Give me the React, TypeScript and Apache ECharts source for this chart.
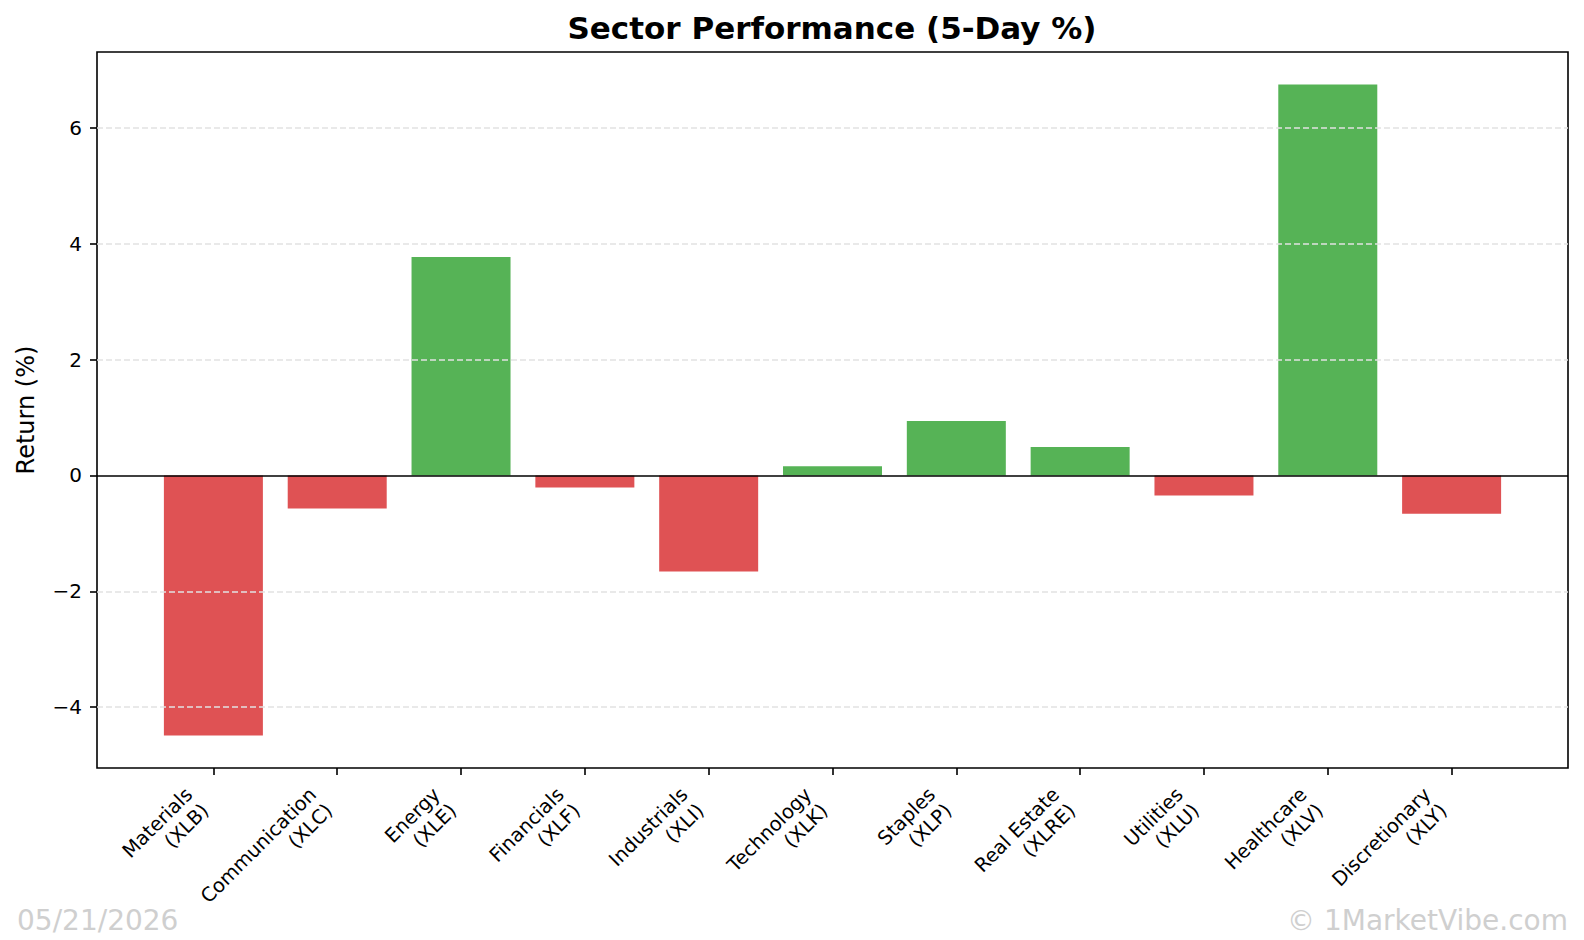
import React, { useEffect, useRef } from "react";
import * as echarts from "echarts";

const sectors = ["Materials", "Communication", "Energy", "Financials", "Industrials", "Technology", "Staples", "Real Estate", "Utilities", "Healthcare", "Discretionary"];
const tickers = ["XLB", "XLC", "XLE", "XLF", "XLI", "XLK", "XLP", "XLRE", "XLU", "XLV", "XLY"];
const returns = [-4.49, -0.57, 3.77, -0.21, -1.66, 0.16, 0.94, 0.49, -0.345, 6.75, -0.66];
const yTicks = [-4, -2, 0, 2, 4, 6];
const titleText = "Sector Performance (5-Day %)";
const yLabel = "Return (%)";
const dateText = "05/21/2026";
const creditText = "\u00a9 1MarketVibe.com";

const FONT = "DejaVu Sans";
const POS = "#56b356";
const NEG = "#df5254";

export default function App() {
  const ref = useRef<HTMLDivElement>(null);
  useEffect(() => {
    if (!ref.current) return;
    const chart = echarts.init(ref.current, null, { renderer: "svg" });
    const idx = sectors.map((_, i) => i);
    const fmtY = (v: number) => (v < 0 ? "\u2212" + Math.abs(v) : String(v));
    chart.setOption({
      animation: false,
      backgroundColor: "#ffffff",
      grid: {
        left: 97,
        top: 52,
        right: 16,
        bottom: 172,
        show: true,
        borderColor: "#000",
        borderWidth: 1.6,
        backgroundColor: "transparent",
      },
      xAxis: {
        type: "value",
        min: -0.94,
        max: 10.94,
        axisLine: { show: false, onZero: false },
        splitLine: { show: false },
        axisTick: {
          show: true,
          customValues: idx,
          length: 7,
          lineStyle: { color: "#000", width: 1.6 },
        },
        axisLabel: {
          customValues: idx,
          rotate: 45,
          margin: 15,
          formatter: (v: number) => {
            const i = Math.round(v);
            return sectors[i] + "\n(" + tickers[i] + ")";
          },
          fontFamily: FONT,
          fontSize: 19.5,
          lineHeight: 23,
          color: "#000",
          padding: [0, 23, 0, 0],
        },
      },
      yAxis: {
        type: "value",
        min: -5.05,
        max: 7.31,
        name: yLabel,
        nameLocation: "middle",
        nameGap: 59,
        nameTextStyle: { fontFamily: FONT, fontSize: 24, color: "#000" },
        axisLine: { show: false, onZero: false },
        splitLine: { show: false },
        axisTick: {
          show: true,
          customValues: yTicks,
          length: 7,
          lineStyle: { color: "#000", width: 1.6 },
        },
        axisLabel: {
          customValues: yTicks,
          formatter: fmtY,
          margin: 15,
          fontFamily: FONT,
          fontSize: 20,
          color: "#000",
        },
      },
      series: [
        {
          type: "bar",
          barWidth: 99,
          data: returns.map((v, i) => ({
            value: [i, v],
            itemStyle: { color: v >= 0 ? POS : NEG },
          })),
          markLine: {
            silent: true,
            symbol: ["none", "none"],
            label: { show: false },
            data: [
              ...yTicks.filter((t) => t !== 0).map((t) => ({
                yAxis: t,
                lineStyle: { color: "#e2e2e2", width: 1.6, type: [6, 3] },
              })),
              { yAxis: 0, lineStyle: { color: "#000", width: 1.6, type: "solid" } },
            ],
          },
        },
      ],
      graphic: [
        {
          type: "text",
          x: 832,
          y: 28,
          style: {
            text: titleText,
            font: `bold 31px "${FONT}"`,
            fill: "#000",
            textAlign: "center",
            textVerticalAlign: "middle",
          },
        },
        {
          type: "text",
          x: 17,
          y: 920,
          style: {
            text: dateText,
            font: `28px "${FONT}"`,
            fill: "#cfcfcf",
            textAlign: "left",
            textVerticalAlign: "middle",
            textShadowColor: "#8c8c8c",
            textShadowOffsetX: 1,
            textShadowOffsetY: 1,
            textShadowBlur: 0,
          },
        },
        {
          type: "text",
          x: 1568,
          y: 920,
          style: {
            text: creditText,
            font: `28px "${FONT}"`,
            fill: "#cfcfcf",
            textAlign: "right",
            textVerticalAlign: "middle",
            textShadowColor: "#8c8c8c",
            textShadowOffsetX: 1,
            textShadowOffsetY: 1,
            textShadowBlur: 0,
          },
        },
      ],
    });
    return () => chart.dispose();
  }, []);
  return (
    <div
      ref={ref}
      style={{ position: "fixed", left: 0, top: 0, width: 1584, height: 940, background: "#fff" }}
    />
  );
}
